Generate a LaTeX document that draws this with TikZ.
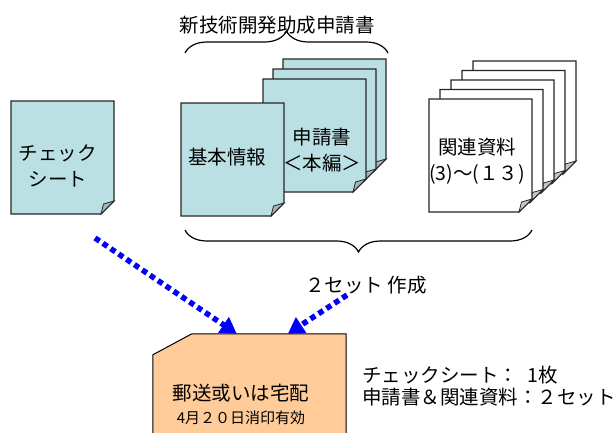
\documentclass[tikz,border=0pt]{standalone}
\usepackage{fontspec}
\setmainfont{Noto Sans CJK JP}
\usepackage{tikz}
\usetikzlibrary{calc}
\usetikzlibrary{arrows.meta}
\usetikzlibrary{decorations.pathreplacing}
\usetikzlibrary{positioning}
\definecolor{sheetblue}{RGB}{187,224,228}
\definecolor{mailorange}{RGB}{255,204,153}
\definecolor{dotblue}{RGB}{0,0,255}
\tikzset{txt/.style={font=\fontsize{19.5}{26}\selectfont,align=center,inner sep=0pt}}
\tikzset{mailbox/.style={rectangle,minimum width=193pt,minimum height=141pt,inner sep=0pt}}
\tikzset{post/.style={dotblue,line width=5.5pt,dash pattern=on 5.5pt off 4pt,
  -{Triangle[width=18pt,length=16pt]}}}
\tikzset{curly/.style={decorate,decoration={brace,amplitude=22pt},line width=1.2pt}}
\tikzset{pics/sheet/.style={code={
  \filldraw[fill=#1,draw=black!85,line width=1.2pt] (0,0) -- (103,0) -- (103,100)
    -- (90,113) -- (0,113) -- cycle;
  \filldraw[fill=#1!55!gray,draw=black!85,line width=0.8pt] (90,113)
    .. controls (91,108) .. (92.5,103) -- (103,100) -- cycle;
}}}

\begin{document}
\begin{tikzpicture}[x=1pt,y=-1pt]
\useasboundingbox (0,0) rectangle (616,432);

% sheets
\pic at (11,101) {sheet=sheetblue};
\node[txt] (check) at (58,166) {チェック\\シート};

\pic at (283,59) {sheet=sheetblue};
\pic at (273,69) {sheet=sheetblue};
\pic at (263,79) {sheet=sheetblue};
\node[txt] (appl) at (322,150) {申請書\\＜本編＞};
\pic at (181,103) {sheet=sheetblue};
\node[txt] (basic) at (227,157) {基本情報};

\pic at (473,61) {sheet=white};
\pic at (462,70.5) {sheet=white};
\pic at (451,80) {sheet=white};
\pic at (440,89.5) {sheet=white};
\pic at (429,99) {sheet=white};
\node[txt] (rel) at (477,161) {関連資料\\(3)～(１３)};

% braces
\draw[curly] (185,53) -- (388,53);
\node[txt] (title) at (277,25) {新技術開発助成申請書};
\draw[curly] (532,230) -- (185,230);
\node[txt] (sets) at (366,285) {２セット 作成};

% mail
\node[mailbox] (mail) at (249.5,404.5) {};
\filldraw[fill=mailorange,draw=black,line width=1pt] ($(mail.north west)+(0,21)$)
  -- ($(mail.north west)+(39,0)$) -- (mail.north east) -- (mail.south east)
  -- (mail.south west) -- cycle;
\node[txt] (mailtxt) at (241,404) {郵送或いは宅配\\[-3pt]{\fontsize{15}{20}\selectfont 4月２０日消印有効}};
\coordinate (ckend) at (95,238);
\coordinate (setend) at (347,295);
\draw[post] (ckend) -- ($(mail.north west)+(84,0)$);
\draw[post] (setend) -- ($(mail.north west)+(135,0)$);

\node[txt,anchor=west,align=left,font=\fontsize{19.5}{22}\selectfont] (count) at (362,386)
  {チェックシート：\hspace{9pt}1枚\\申請書＆関連資料：２セット};
\end{tikzpicture}
\end{document}
